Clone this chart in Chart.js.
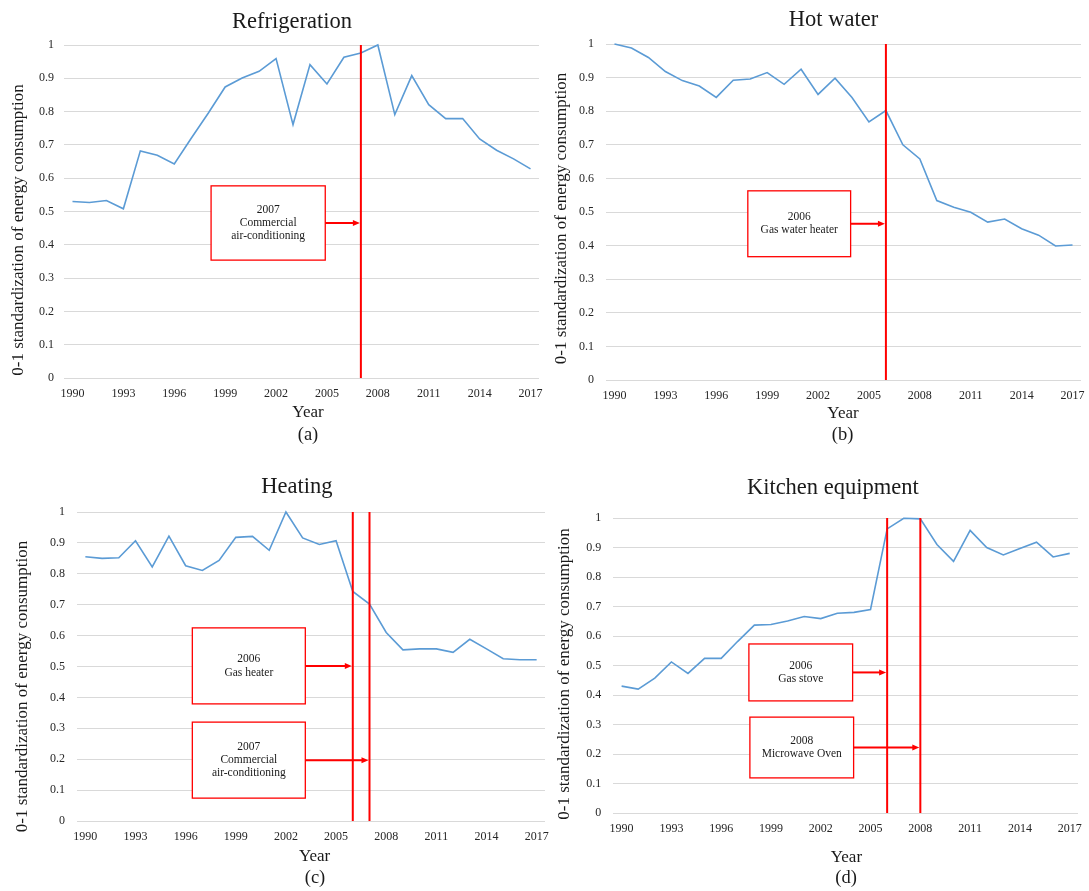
<!DOCTYPE html>
<html>
<head>
<meta charset="utf-8">
<title>Energy consumption by end use</title>
<script src="https://cdn.jsdelivr.net/npm/chart.js@4.4.1/dist/chart.umd.min.js"></script>
<style>
  html, body { margin: 0; padding: 0; background: #ffffff; overflow: hidden; }
  #page { position: relative; width: 1089px; height: 891px; overflow: hidden; }
  #page canvas { position: absolute; }
</style>
</head>
<body>
<div id="page">
  <canvas id="panelA" width="554" height="445" style="left:0px;top:0px"></canvas>
  <canvas id="panelB" width="551" height="445" style="left:545px;top:0px"></canvas>
  <canvas id="panelC" width="560" height="446" style="left:0px;top:445px"></canvas>
  <canvas id="panelD" width="548" height="446" style="left:545px;top:445px"></canvas>
</div>
<script>
// ---- data -------------------------------------------------------------
const years = ['1990', '1991', '1992', '1993', '1994', '1995', '1996', '1997', '1998', '1999',
               '2000', '2001', '2002', '2003', '2004', '2005', '2006', '2007', '2008', '2009',
               '2010', '2011', '2012', '2013', '2014', '2015', '2016', '2017'];

const refrigeration = [0.530, 0.527, 0.533, 0.508, 0.682, 0.669, 0.643, 0.720, 0.795, 0.874,
                       0.901, 0.921, 0.959, 0.761, 0.941, 0.883, 0.963, 0.976, 1.000, 0.791,
                       0.908, 0.821, 0.779, 0.779, 0.718, 0.684, 0.658, 0.628];

const hotWater = [1.000, 0.988, 0.960, 0.918, 0.891, 0.875, 0.841, 0.892, 0.896, 0.915,
                  0.880, 0.925, 0.850, 0.898, 0.841, 0.768, 0.802, 0.700, 0.658, 0.534,
                  0.514, 0.499, 0.470, 0.479, 0.450, 0.431, 0.399, 0.402];

const heating = [0.855, 0.850, 0.852, 0.907, 0.822, 0.922, 0.826, 0.811, 0.843, 0.918,
                 0.921, 0.876, 1.000, 0.916, 0.895, 0.907, 0.743, 0.702, 0.610, 0.554,
                 0.557, 0.557, 0.546, 0.588, 0.557, 0.525, 0.522, 0.522];

const kitchen = [0.430, 0.420, 0.457, 0.512, 0.473, 0.524, 0.524, 0.582, 0.637, 0.639,
                 0.651, 0.666, 0.659, 0.677, 0.680, 0.690, 0.963, 0.999, 0.997, 0.910,
                 0.853, 0.958, 0.900, 0.875, 0.897, 0.918, 0.868, 0.880];

const xTickLabels = ['1990', '1993', '1996', '1999', '2002', '2005', '2008', '2011', '2014', '2017'];
const yTickLabels = ['0', '0.1', '0.2', '0.3', '0.4', '0.5', '0.6', '0.7', '0.8', '0.9', '1'];

const refrigerationEvents = [{ year: '2007', text: ['2007', 'Commercial', 'air-conditioning'] }];
const hotWaterEvents = [{ year: '2006', text: ['2006', 'Gas water heater'] }];
const heatingEvents = [
  { year: '2006', text: ['2006', 'Gas heater'] },
  { year: '2007', text: ['2007', 'Commercial', 'air-conditioning'] }
];
const kitchenEvents = [
  { year: '2006', text: ['2006', 'Gas stove'] },
  { year: '2008', text: ['2008', 'Microwave Oven'] }
];

const yAxisTitle = '0-1 standardization of energy consumption';
const xAxisTitle = 'Year';

// ---- styling ----------------------------------------------------------
const SERIF = "'Liberation Serif', 'Times New Roman', 'DejaVu Serif', serif";
const LINE_BLUE = '#5b9bd5';
const MARK_RED = '#ff0000';
const GRID = '#d9d9d9';
const TEXT = '#1a1a1a';
const TICK_TEXT = '#262626';

// Red event markers: vertical line at the event year, a white label box,
// and an arrow from the box to the line. Box extents are given in scale
// units (category index across, value up).
const eventMarkers = {
  id: 'eventMarkers',
  afterDatasetsDraw(chart, args, opts) {
    const { ctx, chartArea } = chart;
    const xs = chart.scales.x, ys = chart.scales.y;
    const events = opts.events || [];
    const boxes = opts.boxes || [];
    ctx.save();
    events.forEach((ev, i) => {
      const lx = xs.getPixelForValue(years.indexOf(ev.year));
      ctx.strokeStyle = MARK_RED;
      ctx.lineWidth = 2;
      ctx.beginPath();
      ctx.moveTo(lx, chartArea.top);
      ctx.lineTo(lx, chartArea.bottom);
      ctx.stroke();

      const b = boxes[i];
      if (!b) return;
      const x0 = xs.getPixelForValue(b.from);
      const x1 = xs.getPixelForValue(b.to);
      const y0 = ys.getPixelForValue(b.top);
      const y1 = ys.getPixelForValue(b.bottom);
      const cy = (y0 + y1) / 2;

      ctx.fillStyle = '#ffffff';
      ctx.fillRect(x0, y0, x1 - x0, y1 - y0);
      ctx.strokeStyle = MARK_RED;
      ctx.lineWidth = 1.3;
      ctx.strokeRect(x0, y0, x1 - x0, y1 - y0);

      ctx.fillStyle = TEXT;
      ctx.font = '11.5px ' + SERIF;
      ctx.textAlign = 'center';
      ctx.textBaseline = 'middle';
      const lh = 13.3;
      const startY = cy - (ev.text.length - 1) * lh / 2;
      ev.text.forEach((t, k) => ctx.fillText(t, (x0 + x1) / 2, startY + k * lh));

      const tip = lx - 1;
      ctx.strokeStyle = MARK_RED;
      ctx.lineWidth = 2;
      ctx.beginPath();
      ctx.moveTo(x1, cy);
      ctx.lineTo(tip - 5, cy);
      ctx.stroke();
      ctx.fillStyle = MARK_RED;
      ctx.beginPath();
      ctx.moveTo(tip, cy);
      ctx.lineTo(tip - 7, cy - 3);
      ctx.lineTo(tip - 7, cy + 3);
      ctx.closePath();
      ctx.fill();
    });
    ctx.restore();
  }
};

// Panel title, axis titles and panel caption.
const panelText = {
  id: 'panelText',
  afterDraw(chart, args, o) {
    const ctx = chart.ctx;
    ctx.save();
    ctx.fillStyle = TEXT;
    ctx.textAlign = 'center';
    ctx.textBaseline = 'middle';
    ctx.font = '22.5px ' + SERIF;
    ctx.fillText(o.title, o.titleAt[0], o.titleAt[1]);
    ctx.font = '17px ' + SERIF;
    ctx.fillText(xAxisTitle, o.xTitleAt[0], o.xTitleAt[1]);
    ctx.font = '18.5px ' + SERIF;
    ctx.fillText(o.caption, o.captionAt[0], o.captionAt[1]);
    ctx.translate(o.yTitleAt[0], o.yTitleAt[1]);
    ctx.rotate(-Math.PI / 2);
    ctx.font = '17px ' + SERIF;
    ctx.fillText(yAxisTitle, 0, 0);
    ctx.restore();
  }
};

function makePanel(p) {
  return new Chart(document.getElementById(p.id), {
    type: 'line',
    data: {
      labels: years,
      datasets: [{
        data: p.values,
        borderColor: LINE_BLUE,
        borderWidth: 1.6,
        pointRadius: 0,
        pointHoverRadius: 0,
        tension: 0,
        fill: false,
        clip: 4
      }]
    },
    options: {
      responsive: false,
      animation: false,
      events: [],
      layout: { padding: { left: 0, right: 15, top: p.plotTop, bottom: p.padB } },
      plugins: {
        legend: { display: false },
        tooltip: { enabled: false },
        title: { display: false },
        eventMarkers: { events: p.events, boxes: p.boxes },
        panelText: p.text
      },
      scales: {
        x: {
          type: 'category',
          offset: true,
          grid: { display: false, drawTicks: false },
          border: { display: false },
          ticks: {
            autoSkip: false,
            maxRotation: 0,
            minRotation: 0,
            padding: 9,
            color: TICK_TEXT,
            font: { family: SERIF, size: 12 },
            callback(value) {
              const lbl = this.getLabelForValue(value);
              return xTickLabels.includes(lbl) ? lbl : '';
            }
          },
          afterFit(scale) { scale.height = 30; }
        },
        y: {
          min: 0,
          max: 1,
          grid: { color: GRID, lineWidth: 1, drawTicks: false },
          border: { display: false },
          ticks: {
            stepSize: 0.1,
            padding: p.yTickPad,
            color: TICK_TEXT,
            font: { family: SERIF, size: 12 },
            callback: (v) => yTickLabels[Math.round(v * 10)]
          },
          afterFit(scale) { scale.width = p.plotLeft; }
        }
      }
    },
    plugins: [eventMarkers, panelText]
  });
}

makePanel({
  id: 'panelA', values: refrigeration, events: refrigerationEvents,
  boxes: [{ from: 8.17, to: 14.9, top: 0.577, bottom: 0.354 }],
  plotLeft: 64, plotTop: 45, padB: 37, yTickPad: 10,
  text: { title: 'Refrigeration', titleAt: [292, 22], caption: '(a)',
          xTitleAt: [308, 413], captionAt: [308, 435], yTitleAt: [19, 230] }
});

makePanel({
  id: 'panelB', values: hotWater, events: hotWaterEvents,
  boxes: [{ from: 7.86, to: 13.92, top: 0.563, bottom: 0.367 }],
  plotLeft: 61, plotTop: 44, padB: 35, yTickPad: 12,
  text: { title: 'Hot water', titleAt: [288.5, 20], caption: '(b)',
          xTitleAt: [298, 414], captionAt: [297.5, 435], yTitleAt: [16.5, 218.5] }
});

makePanel({
  id: 'panelC', values: heating, events: heatingEvents,
  boxes: [
    { from: 6.40, to: 13.16, top: 0.625, bottom: 0.379 },
    { from: 6.40, to: 13.16, top: 0.320, bottom: 0.074 }
  ],
  plotLeft: 77, plotTop: 67, padB: 40, yTickPad: 12,
  text: { title: 'Heating', titleAt: [296.8, 41.7], caption: '(c)',
          xTitleAt: [314.6, 411.7], captionAt: [315, 433], yTitleAt: [23, 241.5] }
});

makePanel({
  id: 'panelD', values: kitchen, events: kitchenEvents,
  boxes: [
    { from: 7.67, to: 13.92, top: 0.573, bottom: 0.380 },
    { from: 7.73, to: 13.98, top: 0.325, bottom: 0.119 }
  ],
  plotLeft: 68.3, plotTop: 73, padB: 48, yTickPad: 12,
  text: { title: 'Kitchen equipment', titleAt: [287.8, 42.7], caption: '(d)',
          xTitleAt: [301.4, 412.7], captionAt: [301, 433], yTitleAt: [20, 229] }
});
</script>
</body>
</html>
